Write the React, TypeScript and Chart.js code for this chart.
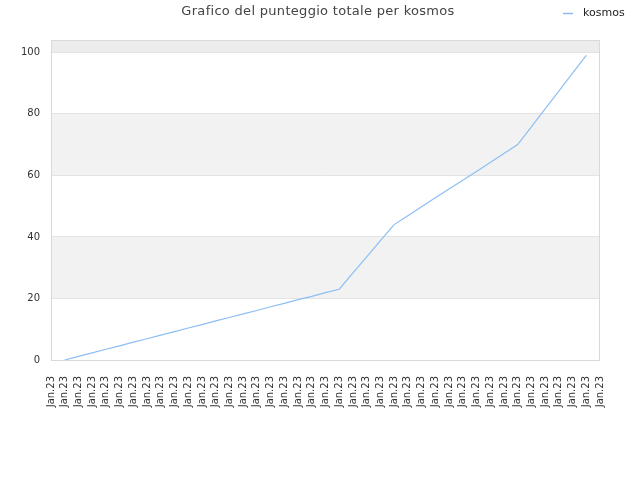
import { useEffect, useRef } from 'react';
import { Chart, registerables } from 'chart.js';

Chart.register(...registerables);

const titleText = 'Grafico del punteggio totale per kosmos';
const seriesName = 'kosmos';

// 41 categories, all labelled the same
const labels: string[] = [
  'Jan.23', 'Jan.23', 'Jan.23', 'Jan.23', 'Jan.23', 'Jan.23', 'Jan.23', 'Jan.23', 'Jan.23', 'Jan.23',
  'Jan.23', 'Jan.23', 'Jan.23', 'Jan.23', 'Jan.23', 'Jan.23', 'Jan.23', 'Jan.23', 'Jan.23', 'Jan.23',
  'Jan.23', 'Jan.23', 'Jan.23', 'Jan.23', 'Jan.23', 'Jan.23', 'Jan.23', 'Jan.23', 'Jan.23', 'Jan.23',
  'Jan.23', 'Jan.23', 'Jan.23', 'Jan.23', 'Jan.23', 'Jan.23', 'Jan.23', 'Jan.23', 'Jan.23', 'Jan.23',
  'Jan.23',
];

// total score per round
const scores: (number | null)[] = [
  null, 0, 1.2, 2.3, 3.5, 4.6, 5.8, 6.9, 8.1, 9.2,
  10.4, 11.5, 12.7, 13.8, 15.0, 16.1, 17.3, 18.4, 19.6, 20.7,
  21.9, 23, 28.3, 33.5, 38.8, 44, 46.9, 49.8, 52.7, 55.6,
  58.4, 61.3, 64.2, 67.1, 70, 75.8, 81.6, 87.4, 93.2, 99,
  null,
];

const yTicks = [0, 20, 40, 60, 80, 100];

const lineColor = '#8cbef4';

// alternating background bands + frame + title + legend
const decorPlugin = {
  id: 'decor',
  beforeDraw(chart: any) {
    const { ctx, chartArea, scales } = chart;
    const y = scales.y;
    ctx.save();
    ctx.fillStyle = '#ffffff';
    ctx.fillRect(0, 0, chart.width, chart.height);
    const bands = [
      [20, 40, '#f2f2f2'],
      [60, 80, '#f2f2f2'],
      [100, y.max, '#ececec'],
    ] as const;
    bands.forEach(([a, b, c]) => {
      const top = y.getPixelForValue(b);
      const bottom = y.getPixelForValue(a);
      ctx.fillStyle = c;
      ctx.fillRect(chartArea.left, top, chartArea.right - chartArea.left, bottom - top);
    });
    ctx.restore();
  },
  afterDraw(chart: any) {
    const { ctx, chartArea } = chart;
    ctx.save();
    ctx.strokeStyle = '#d9d9d9';
    ctx.lineWidth = 1;
    ctx.strokeRect(chartArea.left + 0.5, chartArea.top + 0.5, chartArea.right - chartArea.left - 1, chartArea.bottom - chartArea.top);

    ctx.fillStyle = '#444';
    ctx.font = '13px "DejaVu Sans"';
    ctx.letterSpacing = '0.3px';
    ctx.textAlign = 'center';
    ctx.textBaseline = 'middle';
    ctx.fillText(titleText, 318, 12);
    ctx.letterSpacing = '0px';

    ctx.strokeStyle = lineColor;
    ctx.lineWidth = 1.5;
    ctx.beginPath();
    ctx.moveTo(563, 13.5);
    ctx.lineTo(573, 13.5);
    ctx.stroke();
    ctx.fillStyle = '#222';
    ctx.font = '11px "DejaVu Sans"';
    ctx.textAlign = 'left';
    ctx.fillText(seriesName, 583, 13);
    ctx.restore();
  },
};

export default function App() {
  const canvasRef = useRef<HTMLCanvasElement>(null);

  useEffect(() => {
    if (!canvasRef.current) return;
    const chart = new Chart(canvasRef.current, {
      type: 'line',
      data: {
        labels,
        datasets: [{
          label: seriesName,
          data: scores,
          borderColor: lineColor,
          borderWidth: 1.2,
          pointRadius: 0,
          tension: 0,
          fill: false,
        }],
      },
      options: {
        responsive: false,
        animation: false,
        devicePixelRatio: 1,
        layout: { padding: { top: 40, right: 40, left: 0, bottom: 0 } },
        plugins: {
          legend: { display: false },
          title: { display: false },
          tooltip: { enabled: false },
        },
        scales: {
          x: {
            offset: false,
            grid: { display: false },
            border: { display: false },
            ticks: {
              autoSkip: false,
              maxRotation: 90,
              minRotation: 90,
              padding: 8,
              color: '#333',
              font: { family: 'DejaVu Sans', size: 10 },
            },
            afterFit(scale: any) { scale.height = 120; },
          },
          y: {
            min: 0,
            max: 104,
            grid: { color: '#e3e3e3', drawTicks: false },
            border: { display: false },
            ticks: {
              stepSize: 20,
              padding: 11,
              color: '#333',
              font: { family: 'DejaVu Sans', size: 10 },
            },
            afterBuildTicks(scale: any) {
              scale.ticks = yTicks.map(v => ({ value: v }));
            },
            afterFit(scale: any) { scale.width = 51; },
          },
        },
      },
      plugins: [decorPlugin],
    });
    return () => chart.destroy();
  }, []);

  return (
    <div style={{ position: 'absolute', left: 0, top: 0, width: 640, height: 480 }}>
      <canvas ref={canvasRef} width={640} height={480}></canvas>
    </div>
  );
}
